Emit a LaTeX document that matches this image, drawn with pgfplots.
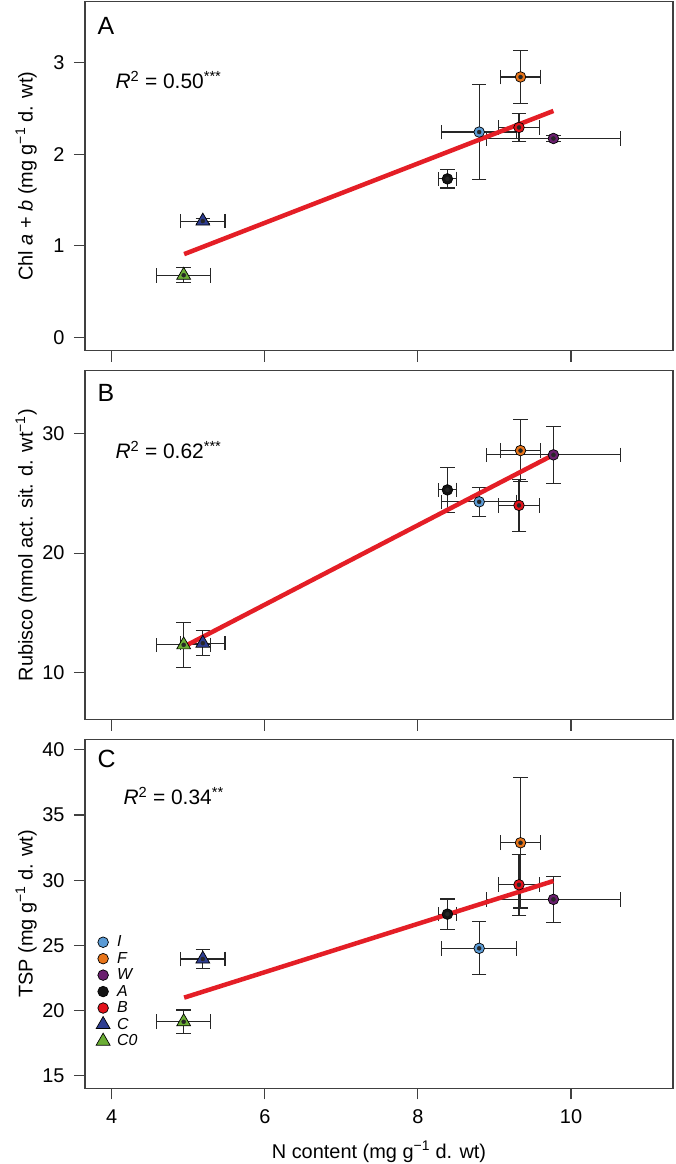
\documentclass[border=0pt]{standalone}
\usepackage{pgfplots}
\pgfplotsset{compat=1.18}
\usepackage{pgfplotstable}
\usepackage{fontspec}
\setmainfont{Liberation Sans}

\definecolor{cI}{HTML}{5B9BD5}
\definecolor{cF}{HTML}{E8751A}
\definecolor{cW}{HTML}{6A1F6E}
\definecolor{cA}{HTML}{141414}
\definecolor{cB}{HTML}{E3121B}
\definecolor{cC}{HTML}{2E3D91}
\definecolor{cCz}{HTML}{6BAE35}
\definecolor{fitred}{HTML}{E41E26}

\pgfplotstableread{
t x ex y ey
I 8.80 0.49 2.24 0.52
F 9.34 0.265 2.84 0.29
W 9.77 0.88 2.17 0.03
A 8.385 0.115 1.73 0.10
B 9.32 0.27 2.29 0.15
C 5.19 0.29 1.27 0.03
C0 4.94 0.35 0.68 0.08
}\dataA

\pgfplotstableread{
t x ex y ey
I 8.80 0.49 24.3 1.2
F 9.34 0.265 28.6 2.6
W 9.77 0.88 28.24 2.4
A 8.385 0.115 25.3 1.9
B 9.32 0.27 24.0 2.2
C 5.19 0.29 12.44 1.05
C0 4.94 0.35 12.3 1.9
}\dataB

\pgfplotstableread{
t x ex y ey
I 8.80 0.49 24.78 2.04
F 9.34 0.265 32.87 5.0
W 9.77 0.88 28.53 1.76
A 8.385 0.115 27.4 1.16
B 9.32 0.27 29.65 2.34
C 5.19 0.29 23.96 0.74
C0 4.94 0.35 19.15 0.9
}\dataC

\pgfplotsset{
  panel/.style={
    scale only axis, width=588bp, height=349bp,
    xmin=3.651, xmax=11.332, xtick={4,6,8,10},
    axis line style={black!75, line width=1.1bp},
    every tick/.style={black!75, line width=1.1bp},
    tick align=outside, major tick length=11bp,
    tick pos=left,
    tick label style={font=\fontsize{20}{20}\selectfont},
    xticklabel style={yshift=-7bp},
    yticklabel style={xshift=-6bp},
    /pgf/number format/assume math mode=true,
    label style={font=\fontsize{20}{22}\selectfont},
    ylabel style={at={(axis description cs:-0.1003,0.5)}, anchor=center},
    clip=false,
  },
  pts/.style={
    scatter, only marks, scatter src=explicit symbolic,
    scatter/classes={
      I={mark=*, mark size=5.3bp, draw=black, fill=cI, line width=0.7bp},
      F={mark=*, mark size=5.3bp, draw=black, fill=cF, line width=0.7bp},
      W={mark=*, mark size=5.3bp, draw=black, fill=cW, line width=0.7bp},
      A={mark=*, mark size=5.3bp, draw=black, fill=cA, line width=0.7bp},
      B={mark=*, mark size=5.3bp, draw=black, fill=cB, line width=0.7bp},
      C={mark=triangle*, mark size=8bp, draw=black, fill=cC, line width=0.7bp},
      C0={mark=triangle*, mark size=8bp, draw=black, fill=cCz, line width=0.7bp}
    },
  },
  ebars/.style={
    only marks, mark=none, forget plot, black!85,
    error bars/.cd, x dir=both, x explicit, y dir=both, y explicit,
    error mark=-,
    error bar style={draw=black!85, line width=1.1bp},
    error mark options={draw=black!85, mark size=7.3bp, line width=1.1bp, rotate=90},
  },
  fit/.style={fitred, line width=4.5bp, forget plot},
}

\newcommand{\rsq}[2]{{\itshape R}\textsuperscript{2} = #1\textsuperscript{#2}}

\begin{document}
\begin{tikzpicture}
\useasboundingbox (-85bp,1.7bp) rectangle (591bp,-1162.3bp);

% Panel A
\begin{axis}[panel, at={(0,0)}, anchor=north west,
  ymin=-0.142, ymax=3.66, ytick={0,1,2,3}, xticklabels={},
  ylabel={Chl \textit{a} + \textit{b} (mg g\textsuperscript{−1} d. wt)}]
\addplot[pts] table[x=x, y=y, meta=t] {\dataA};
\addplot[ebars] table[x=x, y=y, x error=ex, y error=ey] {\dataA};
\addplot[fit] coordinates {(4.946,0.91) (9.77,2.47)};
\node[anchor=west, font=\fontsize{25}{25}\selectfont] at (axis description cs:0.0153,0.930) {A};
\node[anchor=west, font=\fontsize{21}{21}\selectfont] at (axis description cs:0.0459,0.7757) {\rsq{0.50}{***}};
\end{axis}

% Panel B
\begin{axis}[panel, at={(0,-369bp)}, anchor=north west,
  ymin=6.02, ymax=35.3, ytick={10,20,30}, xticklabels={},
  ylabel={Rubisco (nmol act. sit. d. wt\textsuperscript{−1})}]
\addplot[pts] table[x=x, y=y, meta=t] {\dataB};
\addplot[ebars] table[x=x, y=y, x error=ex, y error=ey] {\dataB};
\addplot[fit] coordinates {(4.946,12.16) (9.77,28.24)};
\node[anchor=west, font=\fontsize{25}{25}\selectfont] at (axis description cs:0.0153,0.937) {B};
\node[anchor=west, font=\fontsize{21}{21}\selectfont] at (axis description cs:0.0459,0.773) {\rsq{0.62}{***}};
\end{axis}

% Panel C
\begin{axis}[panel, at={(0,-737.6bp)}, anchor=north west,
  ymin=14.05, ymax=40.8, ytick={15,20,25,30,35,40},
  xlabel={N content (mg g\textsuperscript{−1} d. wt)},
  xlabel style={at={(axis description cs:0.5,-0.1997)}, anchor=base},
  ylabel={TSP (mg g\textsuperscript{−1} d. wt)},
  legend style={at={(axis description cs:0.0187,0.4427)}, anchor=north west,
    draw=none, fill=none, inner sep=0pt, row sep=0pt,
    font=\fontsize{16}{17}\selectfont\itshape,
    /tikz/every odd column/.append style={column sep=5bp}},
  legend cell align=left]
\addplot[pts] table[x=x, y=y, meta=t] {\dataC};
\legend{I,F,W,A,B,C,C0}
\addplot[ebars] table[x=x, y=y, x error=ex, y error=ey] {\dataC};
\addplot[fit] coordinates {(4.946,21.0) (9.77,29.94)};
\node[anchor=west, font=\fontsize{25}{25}\selectfont] at (axis description cs:0.0153,0.945) {C};
\node[anchor=west, font=\fontsize{21}{21}\selectfont] at (axis description cs:0.0595,0.8376) {\rsq{0.34}{**}};
\end{axis}
\end{tikzpicture}
\end{document}
